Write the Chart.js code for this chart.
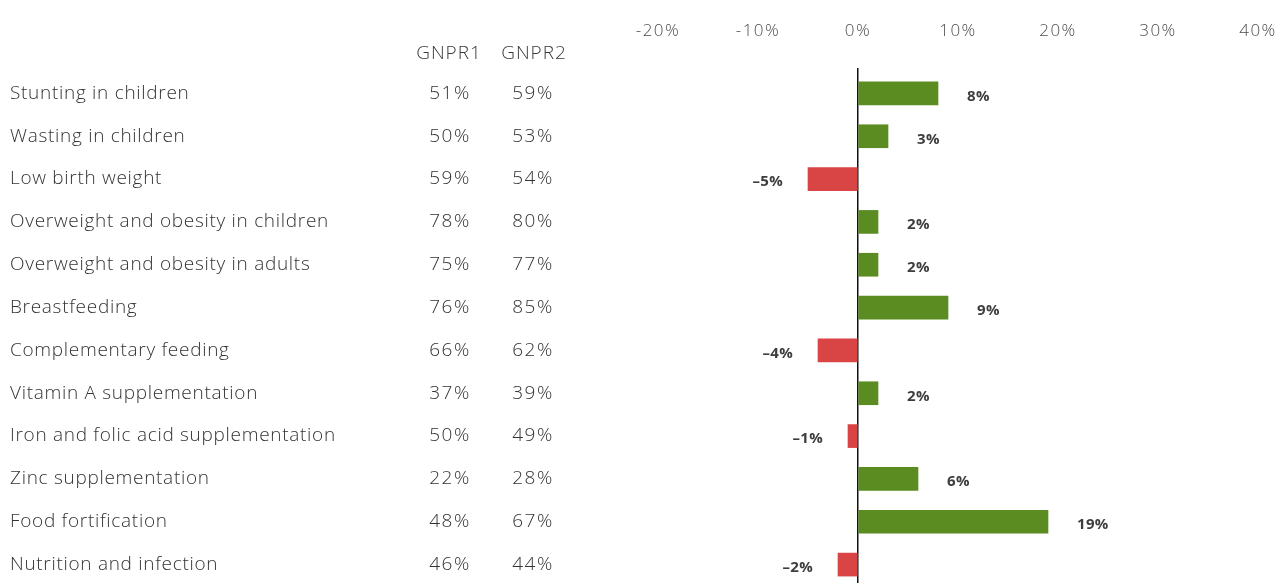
<!DOCTYPE html>
<html>
<head>
<meta charset="utf-8">
<script src="https://cdn.jsdelivr.net/npm/chart.js@4.4.1/dist/chart.umd.min.js"></script>
<style>
  html, body { margin: 0; padding: 0; background: #fff; overflow: hidden; }
  #wrap { position: relative; width: 1279px; height: 586px; }
</style>
</head>
<body>
<div id="wrap"><canvas id="grafico-gnpr"></canvas></div>
<script>
// indicadores e percentuais das duas rodadas
const categorias = [
  "Stunting in children",
  "Wasting in children",
  "Low birth weight",
  "Overweight and obesity in children",
  "Overweight and obesity in adults",
  "Breastfeeding",
  "Complementary feeding",
  "Vitamin A supplementation",
  "Iron and folic acid supplementation",
  "Zinc supplementation",
  "Food fortification",
  "Nutrition and infection"
];
const gnpr1 = [51, 50, 59, 78, 75, 76, 66, 37, 50, 22, 48, 46];
const gnpr2 = [59, 53, 54, 80, 77, 85, 62, 39, 49, 28, 67, 44];
const variacao = [8, 3, -5, 2, 2, 9, -4, 2, -1, 6, 19, -2];
const ticksX = [-20, -10, 0, 10, 20, 30, 40];

const VERDE = '#5b8c21';
const VERMELHO = '#d94545';
const FONTE = '"Open Sans", Lato, sans-serif';

// espaçamento entre letras para os rótulos do eixo
const espacamento = {
  id: 'espacamento',
  beforeDraw(chart) {
    chart.ctx.letterSpacing = '1.5px';
  }
};

// colunas de texto à esquerda + rótulos de valor nas barras
const tabelaLateral = {
  id: 'tabelaLateral',
  afterDraw(chart) {
    const ctx = chart.ctx;
    const y = chart.scales.y;
    const x = chart.scales.x;
    ctx.save();

    // cabeçalho
    ctx.font = '300 19px ' + FONTE;
    ctx.letterSpacing = '1px';
    ctx.fillStyle = '#3a3a3a';
    ctx.textBaseline = 'middle';
    ctx.textAlign = 'center';
    ctx.fillText('GNPR1', 449, 54);
    ctx.fillText('GNPR2', 534, 54);

    categorias.forEach((cat, i) => {
      const py = y.getPixelForValue(i);
      ctx.font = '300 19px ' + FONTE;
      ctx.letterSpacing = '0.7px';
      ctx.fillStyle = '#333';
      ctx.textAlign = 'left';
      ctx.fillText(cat, 10, py);
      ctx.letterSpacing = '1.6px';
      ctx.textAlign = 'right';
      ctx.fillText(gnpr1[i] + '%', 471, py);
      ctx.fillText(gnpr2[i] + '%', 554, py);

      // valor da variação
      const v = variacao[i];
      const px = x.getPixelForValue(v);
      ctx.font = 'bold 15px ' + FONTE;
      ctx.letterSpacing = '0.3px';
      ctx.fillStyle = '#3d3d3d';
      if (v >= 0) {
        ctx.textAlign = 'left';
        ctx.fillText(v + '%', px + 29, py + 3);
      } else {
        ctx.textAlign = 'right';
        ctx.fillText('\u2013' + Math.abs(v) + '%', px - 25, py + 3);
      }
    });
    ctx.restore();
  }
};

new Chart(document.getElementById('grafico-gnpr'), {
  type: 'bar',
  data: {
    labels: categorias,
    datasets: [{
      label: 'Variação GNPR1 → GNPR2',
      data: variacao,
      backgroundColor: variacao.map(v => v >= 0 ? VERDE : VERMELHO),
      barThickness: 23,
      borderWidth: 0
    }]
  },
  options: {
    indexAxis: 'y',
    responsive: true,
    maintainAspectRatio: false,
    animation: false,
    layout: { padding: { left: 658, right: 21, top: 0, bottom: 0 } },
    plugins: {
      legend: { display: false },
      tooltip: { enabled: false }
    },
    scales: {
      x: {
        position: 'top',
        min: -20,
        max: 40,
        afterBuildTicks(scale) {
          scale.ticks = ticksX.map(v => ({ value: v }));
        },
        afterFit(scale) {
          scale.paddingLeft = 0;
          scale.paddingRight = 0;
          scale.height = 72;
        },
        border: { display: false },
        grid: {
          color: c => (c.tick && c.tick.value === 0) ? '#111' : 'rgba(0,0,0,0)',
          lineWidth: 1.5,
          tickLength: 4
        },
        ticks: {
          padding: 27,
          color: '#4d4d4d',
          font: { family: FONTE, size: 17, weight: '300' },
          callback: v => v + '%'
        }
      },
      y: {
        display: false
      }
    }
  },
  plugins: [espacamento, tabelaLateral]
});
</script>
</body>
</html>
